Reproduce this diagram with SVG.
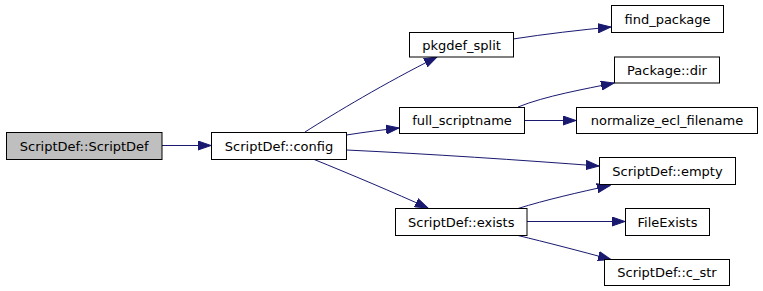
<svg xmlns="http://www.w3.org/2000/svg" width="763" height="291" viewBox="0 0 763 291">
<style>
.n rect{fill:#ffffff;stroke:#000000;stroke-width:1}
.n.g rect{fill:#bfbfbf}
.n text{font-family:"DejaVu Sans","Liberation Sans",sans-serif;font-size:13px;fill:#000000;text-anchor:middle}
.e path{fill:none;stroke:#191970;stroke-width:1;marker-end:url(#ah)}
</style>
<defs>
<marker id="ah" markerUnits="userSpaceOnUse" markerWidth="14" markerHeight="10" refX="13" refY="5" orient="auto" viewBox="0 0 14 10">
<path d="M0,0.5 L13,5 L0,9.5 Z" fill="#191970" stroke="#191970" stroke-width="1"/>
</marker>
</defs>
<rect width="763" height="291" fill="#ffffff"/>
<g id="edges" class="e">
<path d="M162,145.5 L211,145.5"/>
<path d="M305,132 C335,113 385,83 437,57"/>
<path d="M346.5,135 C365,132 382,130 399,128"/>
<path d="M346.5,150 C430,154 520,160 599,166"/>
<path d="M313,159 C350,174 395,193 428,208"/>
<path d="M513,39 C545,34 580,30 611,27"/>
<path d="M518,107 C545,96 585,89 614,83"/>
<path d="M524,120.5 L576,120.5"/>
<path d="M518,208.5 C545,200 580,192 610,185.5"/>
<path d="M527,221.5 L625,221.5"/>
<path d="M518,235.5 C545,242 580,251 611,259.5"/>
</g>
<g id="n_scriptdef" class="n g"><rect x="6.5" y="132.5" width="155.5" height="27"/><text x="84.25" y="150.5">ScriptDef::ScriptDef</text></g>
<g id="n_config" class="n"><rect x="211.5" y="132.5" width="135" height="27"/><text x="279" y="150.5">ScriptDef::config</text></g>
<g id="n_pkgdef_split" class="n"><rect x="409.5" y="32.5" width="104" height="24.5"/><text x="461.5" y="49.5">pkgdef_split</text></g>
<g id="n_find_package" class="n"><rect x="611.5" y="5.5" width="112" height="27"/><text x="667.5" y="23.5">find_package</text></g>
<g id="n_package_dir" class="n"><rect x="614.5" y="57" width="105" height="26"/><text x="667" y="74.5">Package::dir</text></g>
<g id="n_full_scriptname" class="n"><rect x="399.5" y="107.5" width="125" height="26"/><text x="462" y="125">full_scriptname</text></g>
<g id="n_normalize" class="n"><rect x="576.5" y="107.5" width="181" height="26"/><text x="667" y="125">normalize_ecl_filename</text></g>
<g id="n_empty" class="n"><rect x="599.5" y="157.5" width="136" height="27"/><text x="667.5" y="175.5">ScriptDef::empty</text></g>
<g id="n_exists" class="n"><rect x="395.5" y="208.5" width="131.5" height="27"/><text x="461.25" y="226.5">ScriptDef::exists</text></g>
<g id="n_fileexists" class="n"><rect x="625.5" y="208.5" width="84" height="27"/><text x="667.5" y="226.5">FileExists</text></g>
<g id="n_c_str" class="n"><rect x="604.5" y="259.5" width="125" height="26"/><text x="667" y="277">ScriptDef::c_str</text></g>
</svg>
